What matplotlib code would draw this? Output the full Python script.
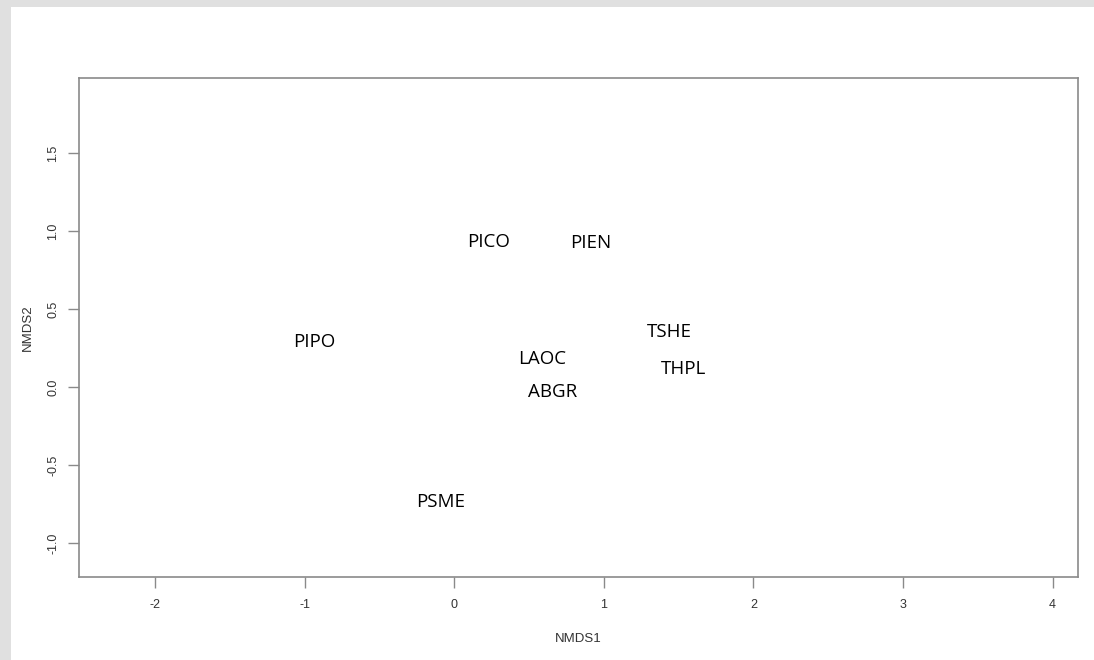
import matplotlib.pyplot as plt
from matplotlib.patches import Rectangle

species = ["PICO", "PIEN", "PIPO", "TSHE", "LAOC", "THPL", "ABGR", "PSME"]
nmds1 = [0.23, 0.91, -0.94, 1.44, 0.59, 1.53, 0.66, -0.09]
nmds2 = [0.93, 0.92, 0.29, 0.35, 0.18, 0.115, -0.03, -0.74]

xticks = [-2, -1, 0, 1, 2, 3, 4]
yticks = [-1.0, -0.5, 0.0, 0.5, 1.0, 1.5]

W, H = 1094, 660
fig = plt.figure(figsize=(W / 100, H / 100), dpi=100, facecolor="#e0e0e0")
# white page area inside the grey frame
fig.patches.append(Rectangle((11 / W, 0), 1 - 11 / W, 1 - 7 / H,
                             transform=fig.transFigure, facecolor="white",
                             edgecolor="none", zorder=-10))

ax = fig.add_axes([79 / W, 1 - 577 / H, (1078 - 79) / W, (577 - 78) / H])
ax.set_xlim(-2.51, 4.17)
ax.set_ylim(-1.218, 1.98)

for s, x, y in zip(species, nmds1, nmds2):
    ax.text(x, y, s, ha="center", va="center", fontsize=13.5,
            family="Open Sans", color="black")

grey = "#8a8a8a"
for sp in ax.spines.values():
    sp.set_color(grey)
    sp.set_linewidth(1.2)

ax.set_xticks(xticks)
ax.set_xticklabels([str(t) for t in xticks])
ax.set_yticks(yticks)
ax.set_yticklabels([f"{t:.1f}" for t in yticks], rotation=90, va="center")
ax.tick_params(axis="both", direction="out", length=8, width=1, color=grey,
               labelsize=9, labelcolor="#333333", pad=6)
ax.tick_params(axis="x", pad=8)
for lab in ax.get_xticklabels() + ax.get_yticklabels():
    lab.set_family("Liberation Sans")

ax.set_xlabel("NMDS1", fontsize=9.5, family="Liberation Sans",
              color="#333333", labelpad=16)
ax.set_ylabel("NMDS2", fontsize=9.5, family="Liberation Sans",
              color="#333333", labelpad=10)

fig.savefig("out.png", dpi=100, facecolor=fig.get_facecolor())
